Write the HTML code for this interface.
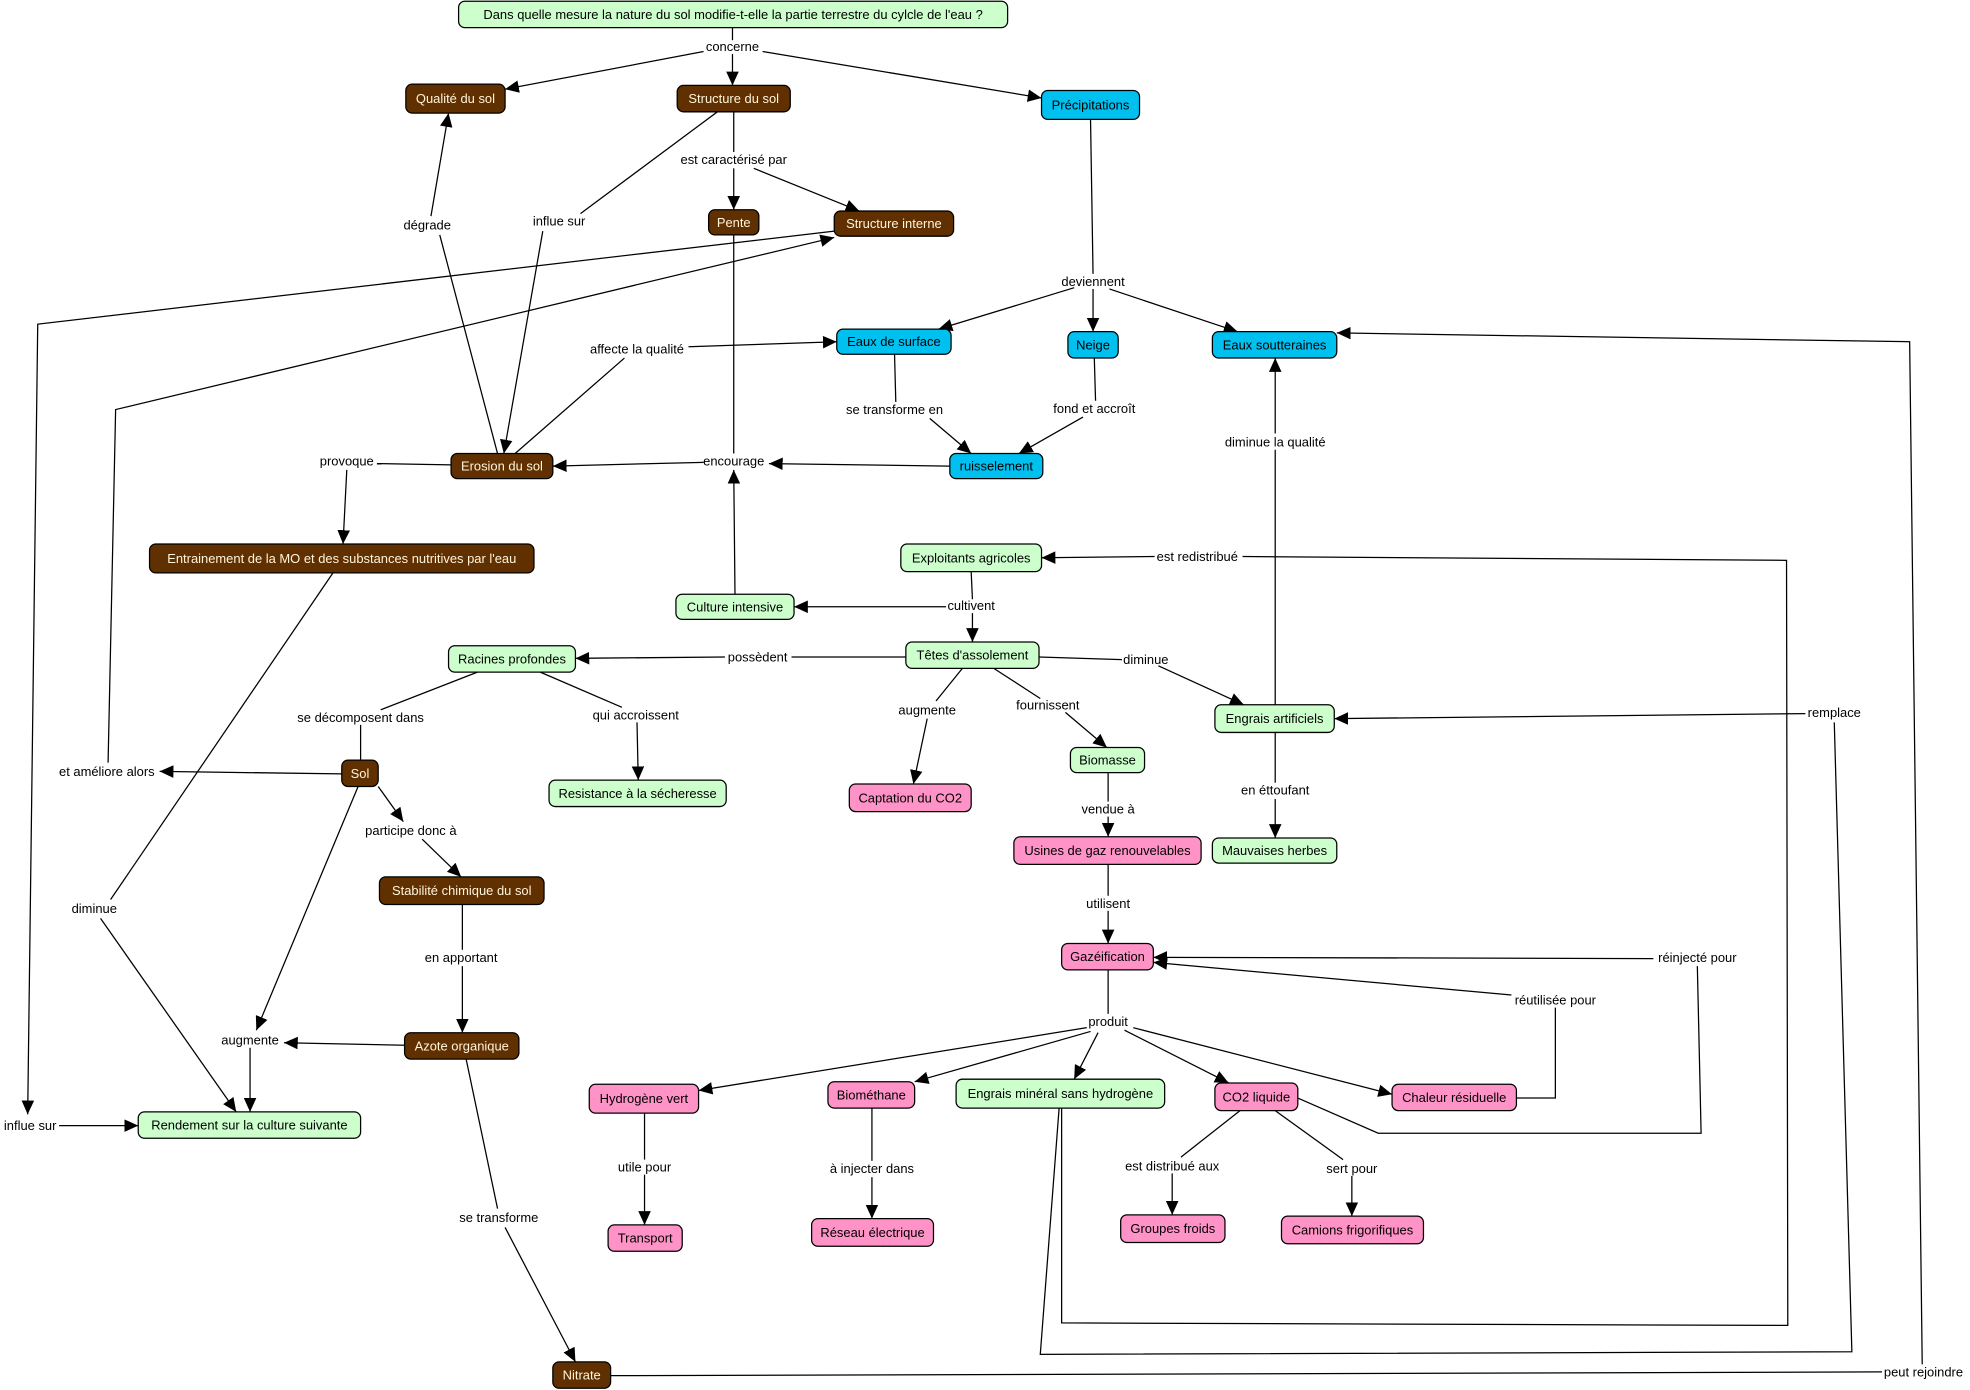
<!DOCTYPE html>
<html><head><meta charset="utf-8"><style>
html,body{margin:0;padding:0;background:#fff;}
svg{display:block;}
text{font-family:"Liberation Sans","DejaVu Sans",sans-serif;font-size:10.3px;}
.l{fill:#000;text-anchor:middle;dominant-baseline:central;}
.n{text-anchor:middle;dominant-baseline:central;}
.b rect{fill:#603000;stroke:#000;}
.b text{fill:#fff4dc;}
.g rect{fill:#ccffcc;stroke:#000;}
.g text{fill:#000;}
.c rect{fill:#00c0f0;stroke:#000;}
.c text{fill:#000;}
.p rect{fill:#ff92c6;stroke:#000;}
.p text{fill:#000;}
line,polyline{stroke:#000;stroke-width:1;fill:none;}
.a{marker-end:url(#ar);}
</style></head><body>
<svg width="1970" height="1390" viewBox="0 0 1568 1106.4" xmlns="http://www.w3.org/2000/svg">
<defs><marker id="ar" markerUnits="userSpaceOnUse" markerWidth="12" markerHeight="10" refX="11" refY="5" orient="auto"><path d="M0,0 L11,5 L0,10 z" fill="#000"/></marker></defs>

<!-- connectors -->
<line x1="583" y1="22" x2="583" y2="32"/>
<line class="a" x1="560" y1="41" x2="402" y2="71"/>
<line class="a" x1="583" y1="43" x2="583" y2="68"/>
<line class="a" x1="607" y1="41" x2="829" y2="78"/>
<line x1="584" y1="89" x2="584" y2="121"/>
<line class="a" x1="584" y1="134" x2="584" y2="167"/>
<line class="a" x1="600" y1="134" x2="684" y2="168"/>
<line x1="571" y1="89" x2="462" y2="170"/>
<line class="a" x1="432" y1="184" x2="401" y2="361"/>
<line x1="396" y1="361" x2="350" y2="187"/>
<line class="a" x1="343" y1="172" x2="357" y2="90"/>
<line x1="410" y1="361" x2="497" y2="285"/>
<line class="a" x1="548" y1="276" x2="666" y2="272"/>
<polyline class="a" points="664,184 30,258 22,887"/>
<line class="a" x1="47" y1="896" x2="110" y2="896"/>
<line x1="868" y1="95" x2="870" y2="218"/>
<line class="a" x1="855" y1="229" x2="747" y2="262"/>
<line class="a" x1="870" y1="230" x2="870" y2="264"/>
<line class="a" x1="883" y1="230" x2="985" y2="264"/>
<line x1="712" y1="282" x2="713" y2="320"/>
<line class="a" x1="740" y1="333" x2="773" y2="361"/>
<line x1="871" y1="285" x2="872" y2="319"/>
<line class="a" x1="862" y1="332" x2="811" y2="361"/>
<line class="a" x1="756" y1="371" x2="612" y2="369"/>
<line x1="584" y1="187" x2="584" y2="361"/>
<line class="a" x1="560" y1="368" x2="440" y2="371"/>
<line class="a" x1="585" y1="473" x2="584" y2="374"/>
<line x1="359" y1="370" x2="300" y2="369"/>
<line class="a" x1="276" y1="374" x2="273" y2="433"/>
<polyline class="a" points="86,607 92,326 664,189"/>
<line class="a" x1="272" y1="616" x2="127" y2="614"/>
<line x1="265" y1="456" x2="88" y2="716"/>
<line class="a" x1="80" y1="731" x2="188" y2="885"/>
<line x1="773" y1="455" x2="774" y2="477"/>
<line class="a" x1="753" y1="483" x2="632" y2="483"/>
<line class="a" x1="774" y1="488" x2="774" y2="511"/>
<line x1="721" y1="523" x2="630" y2="523"/>
<line class="a" x1="577" y1="523" x2="458" y2="524"/>
<line x1="827" y1="523" x2="893" y2="525"/>
<line class="a" x1="922" y1="530" x2="990" y2="561"/>
<line x1="766" y1="532" x2="745" y2="558"/>
<line class="a" x1="738" y1="572" x2="727" y2="624"/>
<line x1="791" y1="532" x2="828" y2="556"/>
<line class="a" x1="848" y1="567" x2="881" y2="595"/>
<line x1="380" y1="535" x2="303" y2="565"/>
<line x1="287" y1="577" x2="287" y2="605"/>
<line x1="430" y1="535" x2="495" y2="563"/>
<line class="a" x1="507" y1="575" x2="508" y2="621"/>
<line class="a" x1="301" y1="626" x2="321" y2="654"/>
<line class="a" x1="336" y1="668" x2="367" y2="698"/>
<line class="a" x1="285" y1="626" x2="204" y2="820"/>
<line class="a" x1="322" y1="832" x2="226" y2="830"/>
<line class="a" x1="199" y1="834" x2="199" y2="885"/>
<line x1="368" y1="720" x2="368" y2="756"/>
<line class="a" x1="368" y1="769" x2="368" y2="822"/>
<line x1="371" y1="843" x2="396" y2="962"/>
<line class="a" x1="402" y1="977" x2="458" y2="1084"/>
<line x1="486" y1="1095" x2="1498" y2="1092"/>
<polyline class="a" points="1530,1086 1520,272 1064,265"/>
<line x1="1015" y1="561" x2="1015" y2="358"/>
<line class="a" x1="1015" y1="345" x2="1015" y2="285"/>
<line x1="1015" y1="583" x2="1015" y2="623"/>
<line class="a" x1="1015" y1="636" x2="1015" y2="667"/>
<polyline points="843,882 828,1078 1474,1076 1460,575"/>
<line class="a" x1="1437" y1="568" x2="1062" y2="572"/>
<polyline points="845,882 845,1053 1423,1055 1422,446 989,443"/>
<line class="a" x1="919" y1="443" x2="829" y2="444"/>
<polyline points="1033,874 1097,902 1354,902 1351,769"/>
<line class="a" x1="1316" y1="763" x2="918" y2="762"/>
<polyline points="1207,874 1238,874 1238,802"/>
<line class="a" x1="1203" y1="792" x2="918" y2="766"/>
<line x1="882" y1="615" x2="882" y2="638"/>
<line class="a" x1="882" y1="650" x2="882" y2="666"/>
<line x1="882" y1="688" x2="882" y2="713"/>
<line class="a" x1="882" y1="725" x2="882" y2="751"/>
<line x1="882" y1="772" x2="882" y2="807"/>
<line class="a" x1="865" y1="818" x2="556" y2="868"/>
<line class="a" x1="868" y1="821" x2="728" y2="861"/>
<line class="a" x1="874" y1="822" x2="855" y2="859"/>
<line class="a" x1="895" y1="820" x2="978" y2="862"/>
<line class="a" x1="902" y1="818" x2="1108" y2="871"/>
<line x1="513" y1="886" x2="513" y2="923"/>
<line class="a" x1="513" y1="935" x2="513" y2="975"/>
<line x1="694" y1="882" x2="694" y2="924"/>
<line class="a" x1="694" y1="937" x2="694" y2="970"/>
<line x1="987" y1="884" x2="940" y2="921"/>
<line class="a" x1="933" y1="934" x2="933" y2="967"/>
<line x1="1015" y1="884" x2="1069" y2="923"/>
<line class="a" x1="1076" y1="936" x2="1076" y2="968"/>

<!-- labels -->
<g class="lbl">
<text class="l" x="583" y="37">concerne</text>
<text class="l" x="584" y="127">est caractérisé par</text>
<text class="l" x="340" y="179">dégrade</text>
<text class="l" x="445" y="176">influe sur</text>
<text class="l" x="870" y="224">deviennent</text>
<text class="l" x="507" y="278">affecte la qualité</text>
<text class="l" x="712" y="326">se transforme en</text>
<text class="l" x="871" y="325">fond et accroît</text>
<text class="l" x="1015" y="352">diminue la qualité</text>
<text class="l" x="276" y="367">provoque</text>
<text class="l" x="584" y="367">encourage</text>
<text class="l" x="953" y="443">est redistribué</text>
<text class="l" x="773" y="482">cultivent</text>
<text class="l" x="603" y="523">possèdent</text>
<text class="l" x="912" y="525">diminue</text>
<text class="l" x="1460" y="567">remplace</text>
<text class="l" x="287" y="571">se décomposent dans</text>
<text class="l" x="506" y="569">qui accroissent</text>
<text class="l" x="738" y="565">augmente</text>
<text class="l" x="834" y="561">fournissent</text>
<text class="l" x="85" y="614">et améliore alors</text>
<text class="l" x="1015" y="629">en éttoufant</text>
<text class="l" x="882" y="644">vendue à</text>
<text class="l" x="327" y="661">participe donc à</text>
<text class="l" x="882" y="719">utilisent</text>
<text class="l" x="75" y="723">diminue</text>
<text class="l" x="367" y="762">en apportant</text>
<text class="l" x="1351" y="762">réinjecté pour</text>
<text class="l" x="1238" y="796">réutilisée pour</text>
<text class="l" x="882" y="813">produit</text>
<text class="l" x="199" y="828">augmente</text>
<text class="l" x="24" y="896">influe sur</text>
<text class="l" x="513" y="929">utile pour</text>
<text class="l" x="694" y="930">à injecter dans</text>
<text class="l" x="933" y="928">est distribué aux</text>
<text class="l" x="1076" y="930">sert pour</text>
<text class="l" x="397" y="969">se transforme</text>
<text class="l" x="1531" y="1092">peut rejoindre</text>
</g>

<!-- nodes -->
<g class="g"><rect x="365" y="1" width="437" height="21" rx="5"/><text class="n" x="583.5" y="11.5">Dans quelle mesure la nature du sol modifie-t-elle la partie terrestre du cylcle de l'eau ?</text></g>
<g class="b"><rect x="323" y="67" width="79" height="23" rx="5"/><text class="n" x="362.5" y="78.5">Qualité du sol</text></g>
<g class="b"><rect x="539" y="68" width="90" height="21" rx="5"/><text class="n" x="584" y="78.5">Structure du sol</text></g>
<g class="c"><rect x="829" y="72" width="78" height="23" rx="5"/><text class="n" x="868" y="83.5">Précipitations</text></g>
<g class="b"><rect x="564" y="167" width="40" height="20" rx="5"/><text class="n" x="584" y="177">Pente</text></g>
<g class="b"><rect x="664" y="168" width="95" height="20" rx="5"/><text class="n" x="711.5" y="178">Structure interne</text></g>
<g class="c"><rect x="666" y="262" width="91" height="20" rx="5"/><text class="n" x="711.5" y="272">Eaux de surface</text></g>
<g class="c"><rect x="850" y="264" width="40" height="21" rx="5"/><text class="n" x="870" y="274.5">Neige</text></g>
<g class="c"><rect x="965" y="264" width="99" height="21" rx="5"/><text class="n" x="1014.5" y="274.5">Eaux soutteraines</text></g>
<g class="b"><rect x="359" y="361" width="81" height="20" rx="5"/><text class="n" x="399.5" y="371">Erosion du sol</text></g>
<g class="c"><rect x="756" y="361" width="74" height="20" rx="5"/><text class="n" x="793" y="371">ruisselement</text></g>
<g class="b"><rect x="119" y="433" width="306" height="23" rx="5"/><text class="n" x="272" y="444.5">Entrainement de la MO et des substances nutritives par l'eau</text></g>
<g class="g"><rect x="717" y="433" width="112" height="22" rx="5"/><text class="n" x="773" y="444">Exploitants agricoles</text></g>
<g class="g"><rect x="538" y="473" width="94" height="20" rx="5"/><text class="n" x="585" y="483">Culture intensive</text></g>
<g class="g"><rect x="357" y="514" width="101" height="21" rx="5"/><text class="n" x="407.5" y="524.5">Racines profondes</text></g>
<g class="g"><rect x="721" y="511" width="106" height="21" rx="5"/><text class="n" x="774" y="521.5">Têtes d'assolement</text></g>
<g class="g"><rect x="967" y="561" width="95" height="22" rx="5"/><text class="n" x="1014.5" y="572">Engrais artificiels</text></g>
<g class="b"><rect x="272" y="605" width="29" height="21" rx="5"/><text class="n" x="286.5" y="615.5">Sol</text></g>
<g class="g"><rect x="437" y="621" width="141" height="21" rx="5"/><text class="n" x="507.5" y="631.5">Resistance à la sécheresse</text></g>
<g class="p"><rect x="676" y="624" width="97" height="22" rx="5"/><text class="n" x="724.5" y="635">Captation du CO2</text></g>
<g class="g"><rect x="852" y="595" width="59" height="20" rx="5"/><text class="n" x="881.5" y="605">Biomasse</text></g>
<g class="p"><rect x="807" y="666" width="149" height="22" rx="5"/><text class="n" x="881.5" y="677">Usines de gaz renouvelables</text></g>
<g class="g"><rect x="965" y="667" width="99" height="20" rx="5"/><text class="n" x="1014.5" y="677">Mauvaises herbes</text></g>
<g class="b"><rect x="302" y="698" width="131" height="22" rx="5"/><text class="n" x="367.5" y="709">Stabilité chimique du sol</text></g>
<g class="p"><rect x="845" y="751" width="73" height="21" rx="5"/><text class="n" x="881.5" y="761.5">Gazéification</text></g>
<g class="b"><rect x="322" y="822" width="91" height="21" rx="5"/><text class="n" x="367.5" y="832.5">Azote organique</text></g>
<g class="p"><rect x="469" y="863" width="87" height="23" rx="5"/><text class="n" x="512.5" y="874.5">Hydrogène vert</text></g>
<g class="p"><rect x="659" y="861" width="69" height="21" rx="5"/><text class="n" x="693.5" y="871.5">Biométhane</text></g>
<g class="g"><rect x="761" y="859" width="166" height="23" rx="5"/><text class="n" x="844" y="870.5">Engrais minéral sans hydrogène</text></g>
<g class="p"><rect x="967" y="862" width="66" height="22" rx="5"/><text class="n" x="1000" y="873">CO2 liquide</text></g>
<g class="p"><rect x="1108" y="863" width="99" height="21" rx="5"/><text class="n" x="1157.5" y="873.5">Chaleur résiduelle</text></g>
<g class="g"><rect x="110" y="885" width="177" height="21" rx="5"/><text class="n" x="198.5" y="895.5">Rendement sur la culture suivante</text></g>
<g class="p"><rect x="484" y="975" width="59" height="21" rx="5"/><text class="n" x="513.5" y="985.5">Transport</text></g>
<g class="p"><rect x="646" y="970" width="97" height="22" rx="5"/><text class="n" x="694.5" y="981">Réseau électrique</text></g>
<g class="p"><rect x="892" y="967" width="83" height="22" rx="5"/><text class="n" x="933.5" y="978">Groupes froids</text></g>
<g class="p"><rect x="1020" y="968" width="113" height="22" rx="5"/><text class="n" x="1076.5" y="979">Camions frigorifiques</text></g>
<g class="b"><rect x="440" y="1084" width="46" height="21" rx="5"/><text class="n" x="463" y="1094.5">Nitrate</text></g>
</svg>
</body></html>
